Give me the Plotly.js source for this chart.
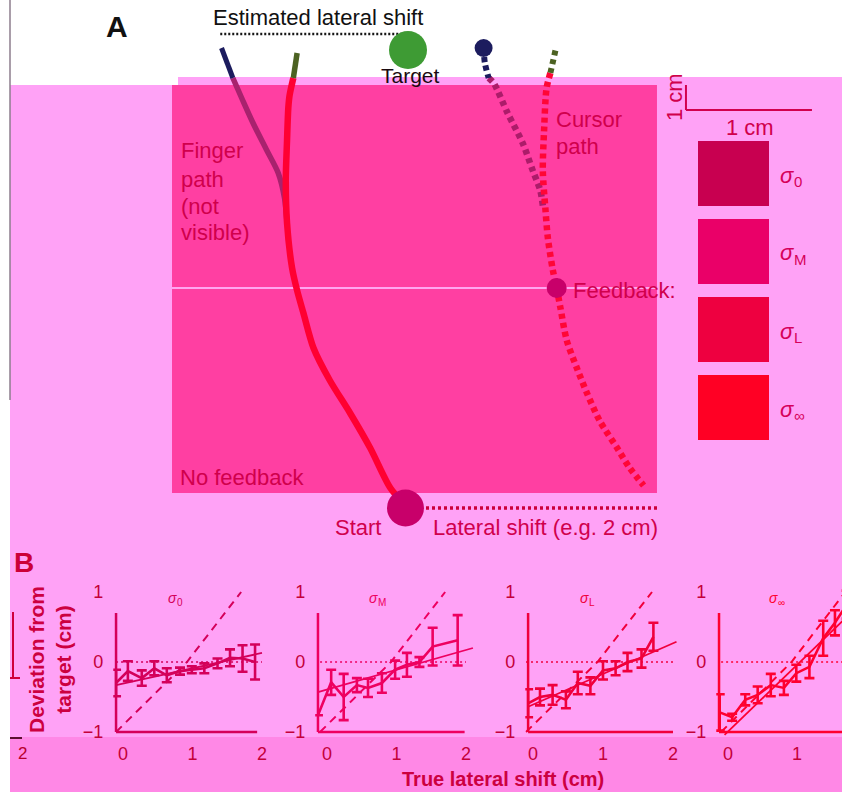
<!DOCTYPE html>
<html><head><meta charset="utf-8">
<script src="https://cdn.plot.ly/plotly-3.0.1.min.js"></script>
<style>html,body{margin:0;padding:0;background:#fff}</style>
</head><body><div id="chart" style="width:842px;height:792px"></div>
<script>
// ---------------- Panel A data (cm: x lateral, y forward from start) ----------------
const fingerTopX = [-0.88, -0.91];
const fingerTopY = [18.2, 17.2];
const fingerX = [-0.91, -0.94, -0.95, -0.96, -0.97, -0.96, -0.92, -0.88, -0.83, -0.75, -0.62, -0.46, -0.30, -0.14, -0.02];
const fingerY = [17.2, 16.5, 16.0, 14.7, 13.1, 11.4, 9.6, 8.7, 7.8, 6.4, 5.1, 3.8, 2.4, 0.8, 0.1];
const estFingerTopX = [-1.48, -1.39];
const estFingerTopY = [18.4, 17.2];
const estFingerX = [-1.39, -1.32, -1.23, -1.12, -1.03, -0.98, -0.96];
const estFingerY = [17.2, 16.4, 15.4, 14.3, 13.4, 12.4, 11.4];
const cursorTopX = [1.17, 1.13];
const cursorTopY = [18.3, 17.4];
const cursorX = [1.13, 1.10, 1.08, 1.07, 1.09, 1.11, 1.15, 1.18, 1.21, 1.26, 1.34, 1.42, 1.52, 1.66, 1.76, 1.87];
const cursorY = [17.4, 16.8, 15.1, 13.5, 12.0, 10.8, 9.5, 8.8, 8.0, 6.7, 5.6, 4.6, 3.5, 2.4, 1.6, 0.9];
const estCursorTopX = [0.60, 0.61, 0.64];
const estCursorTopY = [18.4, 17.8, 17.2];
const estCursorX = [0.64, 0.68, 0.79, 0.91, 0.99, 1.05, 1.07];
const estCursorY = [17.2, 17.0, 15.8, 14.6, 13.5, 12.7, 12.1];
const shiftX = [0, 2.0], shiftY = [0, 0];                 // lateral shift (2 cm)
const estShiftX = [-1.49, 0.0], estShiftY = [18.96, 18.96];
const startPt = [-0.02, 0], targetPt = [0.0, 18.32], feedbackPt = [1.18, 8.8], estEndPt = [0.60, 18.4];
const feedbackLineY = 8.8;

// legend squares: dot offsets (square half-width = 1)
const sqLabels = ['0', 'M', 'L', '∞'];
const dots0X = [0], dots0Y = [0];
const dotsMX = [-0.07,-0.37,-0.23,-0.09,0.05,0.23,-0.42,-0.19,-0.05,0.09,0.33,-0.09,0.0,0.19,-0.07,-0.28,-0.14];
const dotsMY = [0.38,0.12,0.14,0.07,0.10,0.12,-0.08,-0.03,-0.06,-0.03,-0.13,-0.19,-0.13,-0.34,-0.37,-0.10,0.02];
const dotsLX = [0.16,-0.33,-0.19,-0.05,-0.51,-0.37,-0.19,0.0,0.09,0.42,-0.33,-0.14,0.0,0.23,0.47,0.56,-0.33,-0.05,0.19,0.28,0.37,-0.23,-0.09];
const dotsLY = [0.51,0.32,0.27,0.32,0.11,0.11,0.06,0.16,0.01,0.16,-0.09,-0.04,-0.14,-0.25,-0.20,-0.20,-0.27,-0.27,-0.40,-0.40,-0.37,0.06,0.06];

// ---------------- Panel B data ----------------
const xTicks = [0, 1, 2], yTicks = [-1, 0, 1];
const dashX = [-0.1, 0.92, 1.7], dashY = [-1, 0, 1];
const zeroX = [-0.1, 2.0], zeroY = [0, 0];
const s0X = [-0.1, 0.07, 0.27, 0.45, 0.63, 0.82, 0.99, 1.17, 1.36, 1.54, 1.72, 1.9];
const s0Y = [-0.3, -0.13, -0.23, -0.09, -0.19, -0.13, -0.11, -0.09, -0.02, 0.06, 0.05, 0.0];
const s0E = [0.19, 0.14, 0.11, 0.1, 0.1, 0.05, 0.05, 0.07, 0.07, 0.12, 0.19, 0.25];
const fit0X = [-0.1, 2.0], fit0Y = [-0.33, 0.13];
const sMX = [-0.13, 0.06, 0.24, 0.43, 0.59, 0.79, 0.98, 1.15, 1.33, 1.52, 1.88];
const sMY = [-0.76, -0.29, -0.5, -0.33, -0.37, -0.3, -0.11, -0.04, 0.0, 0.22, 0.31];
const sME = [0, 0.18, 0.33, 0.1, 0.13, 0.14, 0.13, 0.17, 0.07, 0.27, 0.36];
const fitMX = [-0.13, 2.1], fitMY = [-0.43, 0.2];
const sLX = [-0.07, 0.1, 0.28, 0.47, 0.64, 0.82, 1.0, 1.18, 1.35, 1.55, 1.72];
const sLY = [-0.59, -0.5, -0.47, -0.54, -0.3, -0.34, -0.12, -0.09, 0.0, 0.05, 0.36];
const sLE = [0.2, 0.12, 0.14, 0.12, 0.16, 0.12, 0.13, 0.1, 0.13, 0.13, 0.2];
const fitLX = [-0.07, 2.05], fitLY = [-0.64, 0.29];
const sIX = [-0.12, 0.06, 0.25, 0.43, 0.62, 0.81, 0.99, 1.18, 1.38, 1.55, 1.72];
const sIY = [-0.72, -0.79, -0.54, -0.47, -0.33, -0.37, -0.16, -0.07, 0.34, 0.56, 0.82];
const sIE = [0.26, 0.05, 0.08, 0.12, 0.16, 0.1, 0.12, 0.16, 0.25, 0.18, 0.2];
const fitIX = [-0.05, 1.75], fitIY = [-1.04, 0.67];

// ---------------- layout helpers ----------------
const W = 842, H = 792;
const px = x => x / W, py = y => 1 - y / H;
const FONT = 'Liberation Sans, Arial, Helvetica, sans-serif';
const TXT = '#D0004C';
const shapes = [], annotations = [], data = [];
function rectPx(x0, y0, x1, y1, fill, layer) {
  shapes.push({type:'rect', xref:'paper', yref:'paper', x0:px(x0), x1:px(x1), y0:py(y1), y1:py(y0),
    fillcolor:fill, line:{width:0}, layer:layer || 'below'});
}
function linePx(x0, y0, x1, y1, color, w) {
  shapes.push({type:'line', xref:'paper', yref:'paper', x0:px(x0), x1:px(x1), y0:py(y0), y1:py(y1),
    line:{color:color, width:w}, layer:'above'});
}
function ann(text, x, y, o) {
  o = o || {};
  annotations.push({text:text, xref:'paper', yref:'paper', x:px(x), y:py(y), showarrow:false,
    xanchor:o.xa || 'center', yanchor:o.ya || 'middle', textangle:o.angle || 0, align:o.align || 'center',
    borderpad:o.pad === undefined ? 1 : o.pad, borderwidth:0,
    font:{family:FONT, size:o.size || 22, color:o.color || TXT, weight:o.bold ? 700 : 400,
          style:o.italic ? 'italic' : 'normal'}});
}
// sigma symbol with subscript, as two plain texts
function sigma(sub, x, y, size, color) {
  ann('σ', x, y, {xa:'left', size:size, color:color, italic:true, pad:0});
  ann(sub, x + size * 0.64, y + size * 0.3, {xa:'left', size:Math.round(size * 0.68), color:color, pad:0});
}

// backgrounds
rectPx(10, 85, 842, 792, '#FFA2F6');
rectPx(178, 77, 842, 85, '#FFA2F6');
rectPx(10, 737, 842, 792, '#FF88E6');
linePx(10, 0, 10, 400, '#8C7C8C', 1.5);

// ---------------- Panel A (axis x/y in cm) ----------------
const layout = {
  width: W, height: H, margin:{l:0, r:0, t:0, b:0},
  paper_bgcolor:'#FFFFFF', plot_bgcolor:'rgba(0,0,0,0)', showlegend:false,
  xaxis:{domain:[0,1], range:[-408/126, 434/126], visible:false, fixedrange:true},
  yaxis:{domain:[0,1], range:[-284/25, 508/25], visible:false, fixedrange:true},
  shapes: shapes, annotations: annotations
};
shapes.push({type:'rect', xref:'x', yref:'y', x0:-1.873, x1:1.976, y0:0.6, y1:16.92,
  fillcolor:'#FF3FA2', line:{width:0}, layer:'below'});
shapes.push({type:'line', xref:'x', yref:'y', x0:-1.873, x1:1.976, y0:feedbackLineY, y1:feedbackLineY,
  line:{color:'#FFA6F0', width:2}, layer:'below'});
// scale bar
shapes.push({type:'line', xref:'x', yref:'y', x0:2.206, x1:2.206, y0:16.92, y1:15.92, line:{color:'#D2004E', width:2}});
shapes.push({type:'line', xref:'x', yref:'y', x0:2.206, x1:3.206, y0:15.92, y1:15.92, line:{color:'#D2004E', width:2}});

function path(x, y, color, w, dash) {
  data.push({type:'scatter', mode:'lines', x:x, y:y, xaxis:'x', yaxis:'y',
    line:{color:color, width:w, dash:dash || 'solid', shape:'spline', smoothing:0.8}, hoverinfo:'skip'});
}
path(estFingerX, estFingerY, '#A8226E', 5.5);
path(estFingerTopX, estFingerTopY, '#1C1C5E', 5);
path(fingerX, fingerY, '#FF0032', 6.5);
path(fingerTopX, fingerTopY, '#4C6222', 5.5);
path(estCursorX, estCursorY, '#AC1C6A', 6.5, '5px,4px');
path(estCursorTopX, estCursorTopY, '#1C1C5E', 6, '5px,4px');
path(cursorX, cursorY, '#FF0636', 6.5, '5px,4px');
path(cursorTopX, cursorTopY, '#4C6222', 6, '5px,4px');
path(shiftX, shiftY, '#CC003A', 3.5, '3px,3px');
path(estShiftX, estShiftY, '#151515', 2.5, '2px,2px');
function dot(p, size, color) {
  data.push({type:'scatter', mode:'markers', x:[p[0]], y:[p[1]], xaxis:'x', yaxis:'y',
    marker:{size:size, color:color, line:{width:0}}, hoverinfo:'skip', cliponaxis:false});
}
dot(startPt, 37, '#C8006A');
dot(targetPt, 38, '#3E9B34');
dot(feedbackPt, 20, '#C8006A');
dot(estEndPt, 18, '#1C1C5E');

ann('A', 117, 26, {size:30, color:'#111111', bold:true});
ann('Estimated lateral shift', 318, 18, {size:22, color:'#111111'});
ann('Target', 410, 75, {size:21, color:'#1A0A10'});
ann('Finger', 180, 151, {xa:'left'});
ann('path', 180, 179, {xa:'left'});
ann('(not', 180, 206, {xa:'left'});
ann('visible)', 180, 233, {xa:'left'});
ann('Cursor', 555, 120, {xa:'left'});
ann('path', 555, 147, {xa:'left'});
ann('Feedback:', 572, 290, {xa:'left'});
ann('No feedback', 179, 478, {xa:'left'});
ann('Start', 358, 527);
ann('Lateral shift (e.g. 2 cm)', 432, 527, {xa:'left'});
ann('1 cm', 750, 127);
ann('1 cm', 674, 97, {angle:-90});

// legend squares
const sqColors = ['#C80050', '#EA0068', '#EE0040', '#FF0024'];
const sqTop = [141, 219, 297, 375];
const sqDots = [[dots0X, dots0Y], [dotsMX, dotsMY], [dotsLX, dotsLY], [[], []]];
sqTop.forEach((t, i) => {
  rectPx(698, t, 769, t + 65, sqColors[i], 'above');
  const n = i + 6;
  layout['xaxis' + n] = {domain:[px(698), px(769)], range:[-1, 1], visible:false, anchor:'y' + n, fixedrange:true};
  layout['yaxis' + n] = {domain:[py(t + 65), py(t)], range:[-1, 1], visible:false, anchor:'x' + n, fixedrange:true};
  data.push({type:'scatter', mode:'markers', x:sqDots[i][0], y:sqDots[i][1], xaxis:'x' + n, yaxis:'y' + n,
    marker:{size:i === 0 ? 4 : 5, color:'rgba(255,150,225,0.9)', line:{width:0}}, hoverinfo:'skip'});
  sigma(sqLabels[i], 780, t + 34, 22, '#D6005A');
});

// ---------------- Panel B ----------------
const subs = [
  {x:s0X, y:s0Y, e:s0E, fx:fit0X, fy:fit0Y, color:'#D4005A', lab:'0', zero:123, scale:69.5, xmin:-0.1, xend:1.93, rmin:-0.14, tx:168},
  {x:sMX, y:sMY, e:sME, fx:fitMX, fy:fitMY, color:'#EE0060', lab:'M', zero:327, scale:69.5, xmin:-0.13, xend:1.98, rmin:-0.17, tx:369},
  {x:sLX, y:sLY, e:sLE, fx:fitLX, fy:fitLY, color:'#F0003C', lab:'L', zero:533, scale:70, xmin:-0.07, xend:2.0, rmin:-0.11, tx:580},
  {x:sIX, y:sIY, e:sIE, fx:fitIX, fy:fitIY, color:'#FF0030', lab:'∞', zero:728, scale:69, xmin:-0.13, xend:1.7, rmin:-0.17, tx:769}
];
subs.forEach((s, i) => {
  const n = i + 2, xa = 'x' + n, ya = 'y' + n;
  const left = s.zero + s.rmin * s.scale;
  let rmax = 2.14, right = s.zero + rmax * s.scale;
  if (right > W) { right = W; rmax = (W - s.zero) / s.scale; }
  layout['xaxis' + n] = {domain:[px(left), px(right)], range:[s.rmin, rmax], anchor:ya, showline:false,
    showgrid:false, zeroline:false, ticks:'', tickvals:xTicks, ticklabelstandoff:5,
    tickfont:{family:FONT, size:18, color:'#C4003A'}, fixedrange:true};
  layout['yaxis' + n] = {domain:[py(736.2), py(587.8)], range:[-1.06, 1.06], anchor:xa, showline:false,
    showgrid:false, zeroline:false, ticks:'', tickvals:yTicks, ticklabelstandoff:9,
    tickfont:{family:FONT, size:18, color:'#C4003A'}, fixedrange:true};
  // axis lines
  shapes.push({type:'line', xref:xa, yref:ya, x0:s.xmin, x1:s.xend, y0:-1, y1:-1, line:{color:s.color, width:2.5}});
  shapes.push({type:'line', xref:xa, yref:ya, x0:s.xmin, x1:s.xmin, y0:-1, y1:0.7, line:{color:s.color, width:2.5}});
  data.push({type:'scatter', mode:'lines', x:zeroX, y:zeroY, xaxis:xa, yaxis:ya,
    line:{color:s.color, width:1.6, dash:'2px,3px'}, hoverinfo:'skip'});
  data.push({type:'scatter', mode:'lines', x:dashX, y:dashY, xaxis:xa, yaxis:ya,
    line:{color:s.color, width:2, dash:'8px,6px'}, hoverinfo:'skip'});
  data.push({type:'scatter', mode:'lines', x:s.fx, y:s.fy, xaxis:xa, yaxis:ya,
    line:{color:s.color, width:1.8}, hoverinfo:'skip'});
  data.push({type:'scatter', mode:'lines', x:s.x, y:s.y, xaxis:xa, yaxis:ya,
    line:{color:s.color, width:2.6},
    error_y:{type:'data', array:s.e, visible:true, color:s.color, thickness:2.6, width:5},
    hoverinfo:'skip'});
  sigma(s.lab, s.tx, 598, 14, s.color);
});

ann('B', 24, 562, {size:28, color:'#CC0038', bold:true});
ann('True lateral shift (cm)', 503, 779, {size:20, bold:true, color:'#CC0040'});
ann('Deviation from<br>target (cm)', 50, 660, {size:21, bold:true, angle:-90, color:'#CC0040'});
ann('2', 22, 753, {size:17, color:'#B8002C'});
linePx(13, 612, 13, 678, '#D0003C', 2);
linePx(10, 678, 20, 678, '#D0003C', 2);
linePx(10, 738, 22, 738, '#5A1030', 2);

Plotly.newPlot('chart', data, layout, {staticPlot:true, displayModeBar:false});
</script>
</body></html>
